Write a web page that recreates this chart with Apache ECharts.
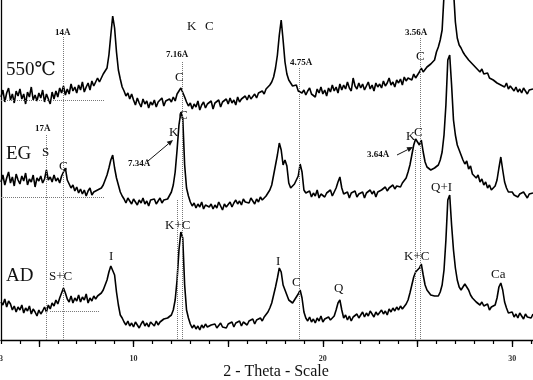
<!DOCTYPE html>
<html><head><meta charset="utf-8">
<script src="https://cdn.jsdelivr.net/npm/echarts@6/dist/echarts.min.js"></script>
<style>html,body{margin:0;padding:0;background:#fff}#c{width:533px;height:380px}</style>
</head><body><div id="c"></div>
<script>
// 2-theta sampling grid
const thetaStart = 3.0, thetaStep = 0.1;
// intensities (arbitrary units, traces offset vertically as in the figure)
const int550 = [
243,250,238,247,252,240,246,237,249,244,
251,241,246,236,248,243,253,240,245,239,
247,242,250,238,246,244,236,248,241,249,
243,252,247,254,245,251,246,256,249,253,
247,255,250,258,248,253,257,250,259,254,
256,262,258,260,266,264,272,285,305,324,
312,288,270,261,253,249,244,247,241,246,
240,235,242,237,233,241,236,239,232,238,
235,240,233,238,236,242,234,239,237,241,
238,243,239,246,244,252,254,243,238,234,
237,231,236,233,239,230,235,238,232,236,
234,239,231,237,235,240,233,238,236,241,
236,242,237,240,235,243,238,241,239,244,
240,245,241,243,246,242,247,245,249,246,
251,253,255,258,263,272,285,305,320,300,
278,266,260,257,254,252,255,249,251,247,
250,245,249,252,246,248,243,251,247,253,
246,250,244,252,248,255,249,253,247,256,
250,255,251,258,252,249,262,254,251,257,
252,256,250,254,258,251,255,249,257,253,
256,252,259,254,257,262,255,258,253,260,
257,261,255,263,259,262,264,260,266,262,
265,268,272,268,270,273,271,276,278,280,
288,293,300,310,345,400,440,430,390,350,
318,302,295,292,288,285,283,280,278,276,
274,272,270,268,271,266,264,267,262,264,
260,262,257,259,255,256,253,257,251,254,
252,249,253,248,251,247,252,249,246,250,
248,251];
const intEG = [
158,165,155,162,168,157,163,154,166,160,
156,164,159,167,155,161,158,165,153,162,
159,164,157,161,170,160,163,158,165,159,
162,157,164,168,172,160,156,152,155,149,
153,147,151,146,150,144,149,152,145,148,
146,150,149,152,155,160,165,172,180,185,
172,162,155,148,144,141,137,142,139,136,
141,138,135,140,137,142,136,139,134,140,
138,141,136,139,142,137,140,138,141,143,
148,155,168,190,215,228,222,175,152,144,
138,134,137,132,136,133,138,131,135,137,
133,136,131,135,132,138,134,130,136,133,
135,138,133,137,140,136,139,135,141,138,
140,137,142,139,136,141,138,143,140,142,
144,145,150,155,165,175,185,197,190,175,
180,174,157,152,154,156,158,164,176,168,
150,147,145,149,143,147,144,150,142,146,
148,143,147,145,150,144,148,152,158,163,
152,146,144,148,142,147,145,149,143,146,
144,148,142,147,145,150,146,149,143,148,
147,150,148,153,149,152,150,155,151,154,
156,153,157,158,162,168,175,185,195,201,
203,195,200,188,178,173,172,170,168,172,
173,175,180,188,205,235,280,285,255,220,
205,195,190,185,180,176,179,171,174,166,
168,162,165,158,161,155,158,152,155,150,
150,154,160,172,183,170,158,152,148,146,
148,145,147,143,146,144,148,145,142,146,
144,147];
const intAD = [
38,35,41,33,39,36,30,34,28,33,
30,35,27,32,29,34,26,31,28,24,
30,26,29,33,28,35,31,37,34,40,
36,42,44,52,47,41,38,44,37,42,
39,45,38,43,40,46,37,42,39,44,
41,44,43,47,50,55,60,68,74,76,
65,48,35,25,22,18,15,19,14,17,
13,18,15,12,16,19,14,17,13,18,
16,14,19,15,18,17,21,19,22,20,
25,30,40,60,90,108,102,55,30,22,
16,12,15,11,14,10,15,12,16,13,
11,15,13,16,12,14,17,13,15,12,
16,14,18,13,17,15,19,14,18,16,
15,19,17,21,16,20,18,22,19,23,
25,28,32,37,45,53,62,72,68,55,
50,45,40,38,37,40,42,46,50,42,
28,22,19,23,18,21,17,22,19,24,
18,21,19,23,20,22,24,30,37,40,
30,22,25,20,24,19,23,21,26,22,
25,28,23,27,24,29,26,23,28,25,
27,30,26,29,25,31,28,32,29,33,
30,34,31,33,36,40,47,55,63,68,
70,72,76,65,55,50,48,45,43,44,
42,44,48,55,70,100,140,145,115,90,
72,60,53,50,52,56,57,50,45,42,
40,38,37,35,38,34,33,36,30,33,
32,35,42,53,57,50,38,32,27,25,
28,23,26,22,27,24,21,26,23,25,
22,26];
// reference d-spacing markers: [2theta, top intensity]
const refLines = [[6.275,303],[5.377,205],[12.30,140],[12.56,278],[18.74,272],[24.87,190],[25.13,302]];
// dotted baseline markers: [from 2theta, to 2theta, level]
const baseMarks = [[3,8.49,240],[3,8.49,143],[5.59,8.23,29]];
const majorTicks = [5,10,15,20,25,30];
const tickLabels = [3,10,20,30];

function toPairs(arr){ return arr.map((v,i)=>[+(thetaStart+i*thetaStep).toFixed(2), v]); }

const serif = '"Liberation Serif","DejaVu Serif",serif';
function T(text,x,y,size,bold){
  return {type:'text', x:x, y:y, z:100, style:{text:text, fill:'#111',
    font:(bold?'bold ':'')+size+'px '+serif, textAlign:'left', textVerticalAlign:'middle'}};
}
function arrow(x1,y1,x2,y2){
  const a=Math.atan2(y2-y1,x2-x1), L=6, w=2.6;
  const bx=x2-L*Math.cos(a), by=y2-L*Math.sin(a);
  return [
    {type:'line', z:100, shape:{x1:x1,y1:y1,x2:bx,y2:by}, style:{stroke:'#111',lineWidth:1}},
    {type:'polygon', z:100, shape:{points:[[x2,y2],[bx-w*Math.sin(a),by+w*Math.cos(a)],[bx+w*Math.sin(a),by-w*Math.cos(a)]]}, style:{fill:'#111'}}
  ];
}

const markData = [];
refLines.forEach(r=>markData.push([{coord:[r[0],r[1]]},{coord:[r[0],0]}]));
baseMarks.forEach(b=>markData.push([{coord:[b[0],b[2]]},{coord:[b[1],b[2]]}]));

const chart = echarts.init(document.getElementById('c'), null, {renderer:'canvas'});
const lineSeries = (name,arr)=>({name:name, type:'line', data:toPairs(arr), showSymbol:false, symbol:'none',
  sampling:null, clip:true, lineStyle:{color:'#000', width:1.6}, animation:false, z:3});
const sAD = lineSeries('AD', intAD);
sAD.markLine = {silent:true, symbol:['none','none'], animation:false, label:{show:false},
  lineStyle:{type:'dotted', color:'#777', width:1}, data:markData};

chart.setOption({
  animation:false,
  backgroundColor:'#fff',
  grid:{left:1, width:532, top:0, height:340, containLabel:false, outerBoundsMode:'none'},
  xAxis:[
    {type:'value', min:3, max:31.1, interval:1, axisLine:{lineStyle:{color:'#000',width:1.3}},
     axisTick:{show:true, length:4, lineStyle:{color:'#000', width:1.2}}, axisLabel:{show:false}, splitLine:{show:false}},
    {type:'value', min:3, max:31.1, position:'bottom', axisLine:{show:false},
     axisTick:{show:true, customValues:majorTicks, length:7, lineStyle:{color:'#000', width:1.3}},
     axisLabel:{show:true, customValues:tickLabels, fontSize:8, fontWeight:'bold', fontFamily:serif, color:'#333', margin:15},
     splitLine:{show:false}}
  ],
  yAxis:{type:'value', min:0, max:340, axisLine:{show:true, lineStyle:{color:'#000', width:1.3}},
    axisTick:{show:false}, axisLabel:{show:false}, splitLine:{show:false}},
  series:[lineSeries('550',int550), lineSeries('EG',intEG), sAD],
  graphic:[
    T('550℃',6,70,19), T('EG',6,154,19), T('AD',6,276,19),
    T('14Å',55,33,9,true), T('7.16Å',166,55,9,true), T('4.75Å',290,63,9,true), T('3.56Å',405,33,9,true),
    T('17Å',35,129,9,true), T('7.34Å',128,164,9,true), T('3.64Å',367,155,9,true),
    T('K',187,27,13), T('C',205,27,13), T('C',175,78,13), T('C',416,57,13),
    T('S',42,153,13), T('C',59,167,13), T('K',169,133,13), T('C',179,116,13),
    T('K',406,137,13), T('C',414,133,13), T('Q+I',431,188,13),
    T('S+C',49,277,13), T('I',109,257,13), T('K+C',165,226,13), T('I',276,262,13),
    T('C',292,283,13), T('Q',334,289,13), T('K+C',404,257,13), T('Ca',491,275,13),
    {type:'text', x:276, y:372, z:100, style:{text:'2 - Theta - Scale', fill:'#111', font:'16px '+serif, textAlign:'center', textVerticalAlign:'middle'}}
  ].concat(arrow(148,161,173,140)).concat(arrow(397,155,413,147))
});
</script></body></html>
